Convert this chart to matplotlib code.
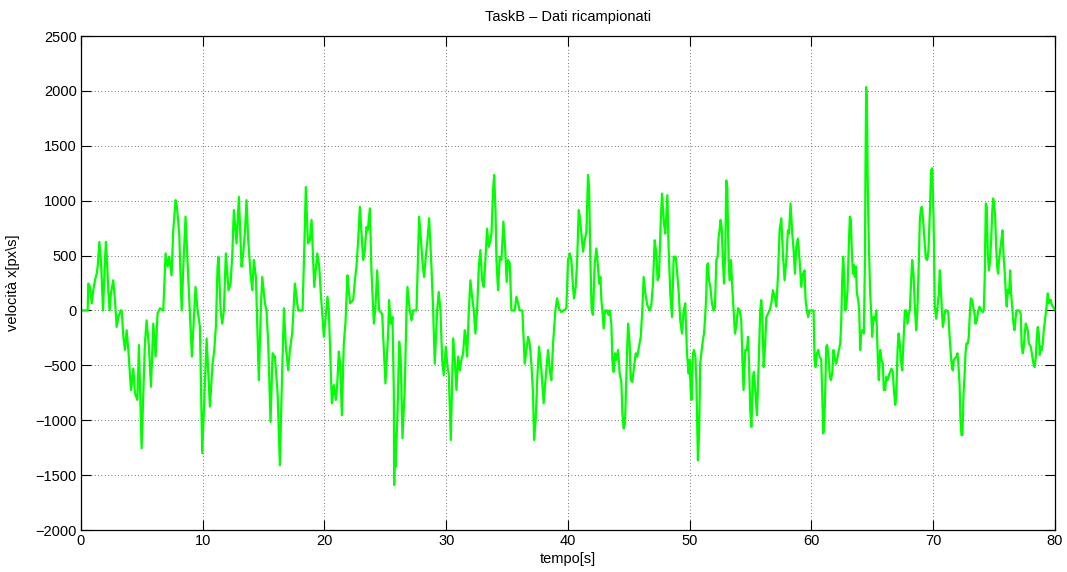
import numpy as np
import matplotlib
matplotlib.use("Agg")
import matplotlib.pyplot as plt

# resampled x velocity, split in 10 s chunks (time [s], velocity [px/s])
t_00 = [0, 0.55, 0.60, 0.74, 0.88, 1.01, 1.15, 1.29, 1.37, 1.51, 1.64, 1.81, 1.97, 2.05, 2.16,
        2.24, 2.35, 2.46, 2.65, 2.79, 2.93, 3.07, 3.26, 3.34, 3.48, 3.61, 3.75, 3.89, 4.11, 4.30,
        4.43, 4.63, 4.76, 4.98, 5.12, 5.25, 5.39, 5.58, 5.75, 5.94, 6.13, 6.29, 6.49, 6.76, 6.95,
        7.12, 7.25, 7.44, 7.58, 7.77, 7.88, 8.07, 8.27, 8.43, 8.59, 8.81, 9.11, 9.41, 9.58, 9.77, 9.96]
v_00 = [0, 0, 245, 215, 65, 185, 275, 335, 400, 625, 460, 0, 460, 625, 400,
        185, 0, 155, 275, 95, -150, -60, 0, 0, -240, -360, -180, -360, -725, -530,
        -755, -815, -315, -1255, -755, -300, -90, -330, -695, -120, -420, -25, 20, 0, 520,
        400, 490, 320, 730, 1005, 945, 700, 0, 460, 855, 305, -420, 215, 0, -150, -1300]

t_10 = [10.32, 10.59, 10.81, 10.95, 11.08, 11.22, 11.30, 11.47, 11.60, 11.74, 11.90, 12.12, 12.29, 12.42, 12.56,
        12.78, 12.97, 13.19, 13.33, 13.46, 13.60, 13.74, 13.93, 14.07, 14.20, 14.37, 14.61, 14.78, 14.89, 15.11,
        15.24, 15.38, 15.57, 15.74, 15.93, 16.15, 16.34, 16.48, 16.67, 16.83, 17.02, 17.16, 17.35, 17.57, 17.71,
        17.84, 18.20, 18.34, 18.47, 18.64, 18.80, 18.94, 19.16, 19.41, 19.57, 19.70, 19.95]
v_10 = [-255, -875, -485, -360, -150, 400, 490, 0, -120, 0, 520, 185, 245, 490, 915,
        610, 1035, 400, 520, 700, 1005, 640, 335, 185, 460, 305, -635, 35, 305, 65,
        0, -300, -1015, -390, -420, -755, -1410, -755, 20, -330, -545, -360, -210, 245, 125,
        0, 0, 550, 1125, 610, 640, 825, 215, 520, 400, 155, -240]

t_20 = [20.25, 20.36, 20.50, 20.61, 20.77, 20.94, 21.04, 21.18, 21.29, 21.43, 21.59, 21.73, 21.89, 22.00, 22.11,
        22.36, 22.50, 22.63, 22.77, 22.91, 23.18, 23.32, 23.45, 23.56, 23.73, 23.86, 24.06, 24.19, 24.33, 24.49,
        24.74, 25.01, 25.23, 25.31, 25.45, 25.59, 25.70, 25.73, 25.78, 25.84, 26.00, 26.14, 26.27, 26.41, 26.60,
        26.74, 26.82, 27.01, 27.15, 27.29, 27.56, 27.78, 27.97, 28.08, 28.19, 28.30, 28.46, 28.60, 28.79, 28.93,
        29.06, 29.26, 29.39, 29.53, 29.67, 29.80, 29.97, 30.11]
v_20 = [125, 0, -485, -845, -680, -815, -695, -375, -485, -955, -300, -105, 320, 185, 65,
        95, 275, 400, 640, 945, 460, 550, 760, 730, 930, 365, -120, 35, 365, 0,
        -30, -665, -210, 95, -120, -60, -755, -1590, -1120, -1425, -940, -285, -450, -1165, -695,
        0, 215, 0, -90, 0, 0, 855, 580, 400, 305, 460, 640, 840, 400, 0,
        -485, 0, 170, 0, -450, -590, -330, -515]

t_30 = [30.21, 30.38, 30.57, 30.71, 30.84, 30.98, 31.12, 31.25, 31.39, 31.53, 31.61, 31.72, 31.86, 31.99, 32.13,
        32.27, 32.40, 32.54, 32.68, 32.81, 32.95, 33.09, 33.22, 33.36, 33.50, 33.64, 33.72, 33.85, 33.94, 34.05,
        34.13, 34.26, 34.40, 34.54, 34.70, 34.84, 34.97, 35.08, 35.22, 35.36, 35.63, 35.77, 35.91, 36.04, 36.26,
        36.45, 36.59, 36.73, 36.86, 37.00, 37.13, 37.22, 37.35, 37.49, 37.63, 37.82, 38.01, 38.18, 38.37, 38.51,
        38.64, 38.78, 38.97, 39.11, 39.27, 39.46, 39.65, 39.87, 40.01]
v_30 = [-575, -1180, -255, -450, -725, -420, -545, -450, -390, -180, -240, -420, 0, 275, 125,
        0, -210, 0, 400, 550, 275, 215, 460, 745, 580, 640, 700, 1095, 1235, 915,
        460, 185, 490, 460, 810, 580, 260, 460, 430, 0, 0, 125, 65, 0, 0,
        -485, -360, -240, -300, -485, -755, -1180, -1000, -605, -330, -545, -845, -605, -360, -545,
        -635, -300, 0, 110, 20, -15, 0, 20, 460]

t_40 = [40.15, 40.28, 40.42, 40.50, 40.64, 40.75, 40.89, 40.97, 41.11, 41.24, 41.38, 41.52, 41.65, 41.74, 41.84,
        41.95, 42.06, 42.20, 42.34, 42.47, 42.56, 42.67, 42.75, 42.83, 42.94, 43.05, 43.21, 43.32, 43.43, 43.57,
        43.65, 43.76, 43.87, 43.98, 44.12, 44.25, 44.39, 44.47, 44.58, 44.69, 44.80, 44.94, 45.07, 45.16, 45.29,
        45.43, 45.57, 45.70, 45.84, 45.98, 46.11, 46.22, 46.36, 46.52, 46.72, 46.85, 46.99, 47.13, 47.26, 47.37,
        47.48, 47.62, 47.73, 47.89, 48.00, 48.17, 48.27, 48.41, 48.55, 48.69, 48.85, 48.96, 49.09, 49.23, 49.37,
        49.51, 49.64, 49.78, 49.92]
v_40 = [520, 460, 215, 110, 215, 430, 915, 855, 700, 535, 640, 715, 1235, 1125, 490,
        0, -40, 430, 565, 400, 245, 305, 95, 0, -165, 0, 0, -40, 0, -120,
        -450, -560, -390, -450, -360, -575, -650, -925, -1075, -1030, -605, -120, -300, -635, -650,
        -515, -390, -420, -330, -240, 0, 305, 155, 50, 0, 50, 245, 640, 520, 275,
        305, 790, 1065, 790, 700, 1050, 580, 155, -60, 490, 490, 365, 185, -90, -210,
        0, 65, -390, -575]

t_50 = [50.00, 50.08, 50.16, 50.27, 50.36, 50.47, 50.55, 50.63, 50.68, 50.77, 50.87, 50.99, 51.09, 51.18, 51.29,
        51.37, 51.42, 51.50, 51.59, 51.70, 51.83, 51.97, 52.08, 52.19, 52.30, 52.38, 52.46, 52.54, 52.63, 52.71,
        52.82, 52.93, 53.01, 53.09, 53.20, 53.28, 53.39, 53.50, 53.61, 53.72, 53.83, 53.97, 54.11, 54.24, 54.32,
        54.43, 54.57, 54.71, 54.79, 54.87, 54.98, 55.07, 55.20, 55.28, 55.39, 55.53, 55.67, 55.80, 55.88, 55.97,
        56.08, 56.19, 56.30, 56.43, 56.57, 56.71, 56.84, 56.98, 57.12, 57.25, 57.39, 57.53, 57.66, 57.80, 57.94,
        58.07, 58.16, 58.29, 58.43, 58.54, 58.65, 58.76, 58.89, 59.03, 59.17, 59.31, 59.44, 59.52, 59.63, 59.74,
        59.85]
v_50 = [-450, -725, -815, -390, -360, -420, -635, -1060, -1365, -1150, -485, -360, -270, -210, -30,
        155, 400, 430, 275, 215, 65, 0, 30, 460, 490, 670, 730, 825, 760, 520,
        245, 550, 1185, 1125, 460, 275, 460, 215, 0, -210, -150, 20, 0, -90, -390,
        -725, -360, -360, -240, -450, -910, -1060, -605, -560, -725, -955, -485, 0, 95, -30,
        -515, -330, -60, -30, 0, 65, 185, 125, 35, 305, 730, 840, 520, 275, 460,
        730, 700, 975, 700, 550, 335, 580, 655, 460, 215, 335, 365, 95, 0, -60,
        0]

t_60 = [60.18, 60.26, 60.34, 60.45, 60.56, 60.67, 60.81, 60.89, 60.97, 61.05, 61.14, 61.22, 61.30, 61.41, 61.52,
        61.60, 61.71, 61.82, 61.93, 62.04, 62.15, 62.26, 62.37, 62.45, 62.53, 62.61, 62.69, 62.78, 62.86, 62.97,
        63.08, 63.16, 63.24, 63.33, 63.41, 63.49, 63.57, 63.66, 63.74, 63.85, 63.93, 64.01, 64.09, 64.18, 64.31,
        64.40, 64.45, 64.50, 64.56, 64.64, 64.72, 64.83, 64.91, 64.99, 65.10, 65.21, 65.33, 65.46, 65.54, 65.65,
        65.76, 65.87, 65.95, 66.06, 66.15, 66.26, 66.37, 66.47, 66.58, 66.69, 66.78, 66.89, 66.97, 67.08, 67.16,
        67.24, 67.35, 67.46, 67.57, 67.68, 67.79, 67.90, 68.01, 68.09, 68.17, 68.28, 68.39, 68.50, 68.61, 68.72,
        68.83, 68.91, 68.99, 69.07, 69.18, 69.29, 69.40, 69.51, 69.62, 69.73, 69.84, 69.92]
v_60 = [0, -450, -515, -390, -360, -420, -450, -755, -1120, -1060, -725, -330, -315, -420, -605,
        -635, -575, -360, -450, -485, -420, -360, -300, -120, 275, 490, 335, 0, 20, 185,
        610, 855, 825, 520, 335, 415, 305, 400, 155, 95, 0, -360, -210, -180, -210,
        460, 1370, 2035, 1915, 1065, 610, 155, 0, -240, -60, -90, 0, -450, -635, -360,
        -450, -485, -725, -725, -605, -635, -590, -560, -530, -560, -725, -860, -785, -360, -210,
        -270, -450, -545, -270, 0, 0, -120, -25, 0, 215, 460, 335, 35, -180, 35,
        460, 825, 915, 945, 825, 640, 475, 460, 550, 885, 1280, 1295]

t_70 = [70.03, 70.14, 70.25, 70.36, 70.47, 70.55, 70.64, 70.72, 70.80, 70.88, 70.99, 71.15, 71.26, 71.34, 71.45,
        71.54, 71.62, 71.70, 71.81, 71.92, 72.00, 72.08, 72.17, 72.25, 72.33, 72.41, 72.50, 72.58, 72.66, 72.74,
        72.85, 72.93, 73.02, 73.10, 73.21, 73.29, 73.40, 73.48, 73.59, 73.69, 73.81, 73.94, 74.08, 74.16, 74.24,
        74.33, 74.41, 74.49, 74.58, 74.66, 74.77, 74.85, 74.93, 75.01, 75.10, 75.18, 75.26, 75.34, 75.42, 75.51,
        75.61, 75.70, 75.78, 75.89, 75.97, 76.05, 76.13, 76.24, 76.33, 76.41, 76.49, 76.60, 76.68, 76.76, 76.85,
        77.09, 77.20, 77.28, 77.37, 77.45, 77.53, 77.61, 77.69, 77.78, 77.86, 77.94, 78.02, 78.11, 78.19, 78.27,
        78.35, 78.44, 78.52, 78.60, 78.68, 78.76, 78.85, 78.93, 79.01, 79.09, 79.17, 79.26, 79.34, 79.42, 79.50,
        79.59, 79.67, 79.75, 79.86, 80.0]
v_70 = [885, 35, -75, 35, 155, 365, 185, 0, -150, -90, 0, 0, -30, -210, -390,
        -515, -545, -450, -435, -420, -390, -500, -665, -1000, -1135, -1135, -755, -605, -390, -300,
        -300, -240, -25, 110, 95, 35, -25, -120, -90, -10, 35, 0, -15, 0, 305,
        975, 945, 520, 365, 430, 640, 885, 1020, 975, 855, 580, 400, 335, 460, 550,
        640, 730, 520, 335, 155, 35, 185, 155, 365, 155, 35, -120, -180, -90, 0,
        0, -30, -330, -390, -330, -210, -120, -150, -180, -300, -315, -330, -390, -450, -500,
        -515, -420, -240, -150, -210, -405, -330, -360, -300, -180, -105, -25, 65, 155, 65,
        95, 95, 50, 35, 0]

t = np.concatenate([t_00, t_10, t_20, t_30, t_40, t_50, t_60, t_70])
vx = np.concatenate([v_00, v_10, v_20, v_30, v_40, v_50, v_60, v_70])

plt.rcParams['font.family'] = ['Liberation Sans', 'DejaVu Sans']
plt.rcParams['font.size'] = 10.5

fig = plt.figure(figsize=(10.67, 5.72), dpi=100)
ax = fig.add_axes([0.0759, 0.0734, 0.9127, 0.8636])

ax.plot(t, vx, color=(0, 1, 0), linewidth=1.6)

ax.set_xlim(0, 80)
ax.set_ylim(-2000, 2500)
ax.set_xticks(np.arange(0, 81, 10))
ax.set_yticks(np.arange(-2000, 2501, 500))
ax.grid(True, color='#444444', linestyle=(0, (1, 3)), linewidth=0.6)
ax.tick_params(direction='in', top=True, right=True, length=7, width=0.8, pad=3)
for s in ax.spines.values():
    s.set_linewidth(0.9)

ax.set_title('TaskB – Dati ricampionati', fontsize=10.5, pad=11)
ax.set_xlabel('tempo[s]', labelpad=3)
ax.set_ylabel('velocità x[px\\s]', labelpad=11)

fig.savefig('out.png', dpi=100)
